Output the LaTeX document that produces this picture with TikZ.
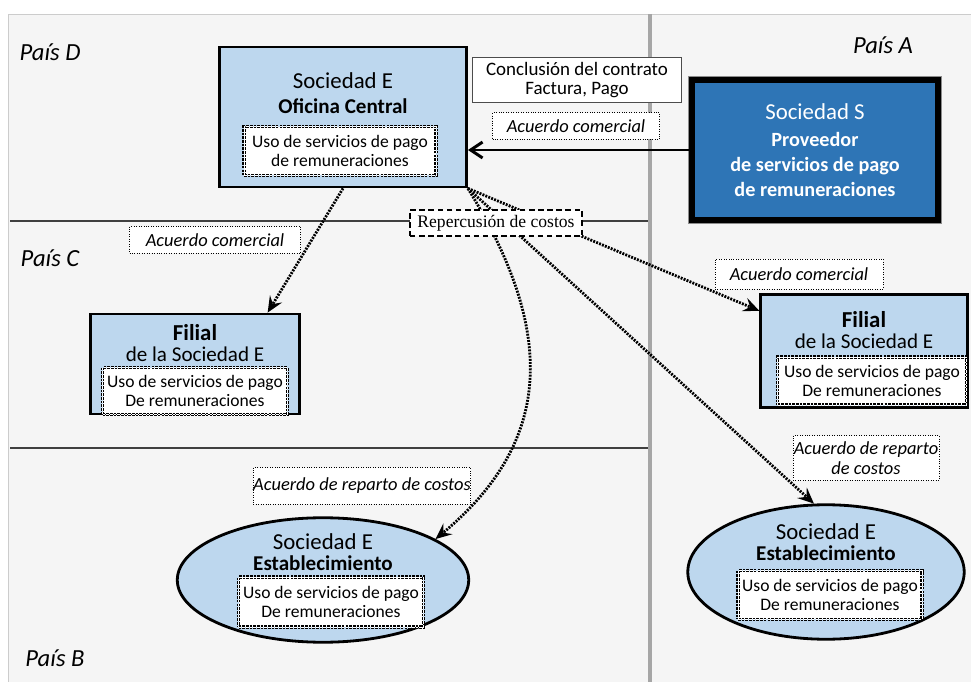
\documentclass[tikz,border=0pt]{standalone}
\usepackage{fontspec}
\setmainfont{Carlito}
\newfontfamily\repfont{Liberation Serif}
\usetikzlibrary{positioning,arrows.meta,shapes.geometric}
\definecolor{panel}{HTML}{F5F5F5}
\definecolor{lightblue}{HTML}{BDD7EE}
\definecolor{provblue}{HTML}{2E75B6}
\definecolor{sepgray}{HTML}{A6A6A6}

\begin{document}
\begin{tikzpicture}[
  x=0.02cm, y=-0.02cm,
  box/.style={draw, line width=1.6pt, fill=lightblue, inner sep=0pt},
  ebox/.style={box, ellipse},
  usebox/.style={draw, line width=0.6pt, double=white, double distance=0.55pt, dash pattern=on 1.5pt off 0.6pt, fill=white, inner sep=0pt, align=center, font=\fontsize{10}{10.8}\selectfont},
  ttl/.style={align=center, inner sep=0pt},
  deal/.style={draw, densely dotted, thin, fill=white, inner sep=0pt, align=center, font=\fontsize{10.5}{11.5}\selectfont\itshape},
  pais/.style={font=\fontsize{14}{16}\selectfont\itshape},
  flow/.style={line width=1.6pt, dash pattern=on 1.1pt off 0.7pt, -{Stealth[length=3.2mm, width=2.8mm, inset=1.2mm]}},
  sep/.style={draw=black!75, line width=0.6pt}
]
\useasboundingbox (0,0) rectangle (971,682);
% countries
\fill[panel] (8,14) rectangle (971,682);
\draw[black!20] (8,682) |- (971,14);
\draw[sep] (10,221) -- (648,221);
\draw[sep] (10,448) -- (648,448);
\draw[sepgray, line width=2.8pt] (650,14) -- (650,682);
\node[pais] (pd) at (50,52)  {País D};
\node[pais] (pc) at (50,258) {País C};
\node[pais] (pb) at (55,658) {País B};
\node[pais] (pa) at (883,45) {País A};

% head office
\node[box, minimum width=4.94cm, minimum height=2.8cm] (oc) at (343,117) {};
\node[ttl] (oct) at (343,93) {\fontsize{13}{15}\selectfont Sociedad E\\[2.5pt] \fontsize{12}{15}\selectfont\bfseries Oficina Central};
\node[usebox, minimum width=3.84cm, minimum height=0.98cm] (ocu) at (340,151) {Uso de servicios de pago\\de remuneraciones};

% provider
\node[draw=black!70, thin, fill=white, minimum width=4.18cm, minimum height=0.9cm, align=center, inner sep=0pt, font=\fontsize{10.8}{10.4}\selectfont] (cc) at (577,80) {Conclusión del contrato\\Factura, Pago};
\node[deal, minimum width=3.34cm, minimum height=0.54cm] (acs) at (576,126) {Acuerdo comercial};
\node[draw, line width=3.4pt, fill=provblue, text=white, preaction={draw=black!45, line width=4.8pt}, minimum width=4.91cm, minimum height=2.79cm, align=center, inner sep=0pt, font=\fontsize{11.5}{14.2}\selectfont] (ss) at (815,150)
  {{\fontsize{13}{15}\selectfont Sociedad S}\\[1.5pt] \textbf{Proveedor}\\ \textbf{de servicios de pago}\\ \textbf{de remuneraciones}};

% subsidiaries
\node[deal, minimum width=3.42cm, minimum height=0.54cm] (acc) at (215,240) {Acuerdo comercial};
\node[box, minimum width=4.17cm, minimum height=2cm] (fc) at (195,364) {};
\node[ttl] (fct) at (195,343) {\fontsize{13}{14}\selectfont\bfseries Filial\\ \fontsize{12}{14}\selectfont\mdseries de la Sociedad E};
\node[usebox, minimum width=3.7cm, minimum height=0.94cm] (fcu) at (195,391) {Uso de servicios de pago\\De remuneraciones};

\node[deal, minimum width=3.36cm, minimum height=0.6cm] (aca) at (799,274) {Acuerdo comercial};
\node[box, minimum width=4.13cm, minimum height=2.27cm] (fa) at (864,351) {};
\node[ttl] (fat) at (864,330) {\fontsize{13}{14}\selectfont\bfseries Filial\\ \fontsize{12}{14}\selectfont\mdseries de la Sociedad E};
\node[usebox, minimum width=3.78cm, minimum height=0.96cm] (fau) at (872,381) {Uso de servicios de pago\\De remuneraciones};

% establishments
\node[deal, minimum width=4.28cm, minimum height=0.74cm] (arb) at (362,486) {Acuerdo de reparto de costos};
\node[ebox, minimum width=5.83cm, minimum height=2.49cm] (eb) at (323,580) {};
\node[ttl] (ebt) at (323,552) {\fontsize{13}{12}\selectfont Sociedad E\\ \fontsize{12}{12}\selectfont\bfseries Establecimiento};
\node[usebox, minimum width=3.7cm, minimum height=1cm] (ebu) at (331,602) {Uso de servicios de pago\\De remuneraciones};

\node[deal, minimum width=2.92cm, minimum height=0.9cm] (ara) at (866,458) {Acuerdo de reparto\\de costos};
\node[ebox, minimum width=5.53cm, minimum height=2.69cm] (ea) at (826,572) {};
\node[ttl] (eat) at (826,542) {\fontsize{13}{13}\selectfont Sociedad E\\ \fontsize{12}{13}\selectfont\bfseries Establecimiento};
\node[usebox, minimum width=3.68cm, minimum height=0.98cm] (eau) at (830,595) {Uso de servicios de pago\\De remuneraciones};

% contracts and cost flows
\draw[line width=1.7pt, -{Straight Barb[length=2.4mm, width=3.2mm]}] (ss.west) -- (ss.west -| oc.east);
\draw[flow] (oc.south) -- ([xshift=-6.6mm]fc.north east);
\draw[flow] (oc.south east) -- ([yshift=-3.6mm]fa.north west);
\draw[flow] (oc.south east) -- (ea.100);
\draw[flow] (oc.south east) .. controls (555,330) and (555,440) .. (eb.20);
\node[draw, line width=1.3pt, dash pattern=on 3.2pt off 2pt, fill=white, minimum width=3.45cm, minimum height=0.53cm, inner sep=0pt, font=\repfont\fontsize{10}{12}\selectfont] (rc) at (496,223) {Repercusión de costos};
\end{tikzpicture}
\end{document}
